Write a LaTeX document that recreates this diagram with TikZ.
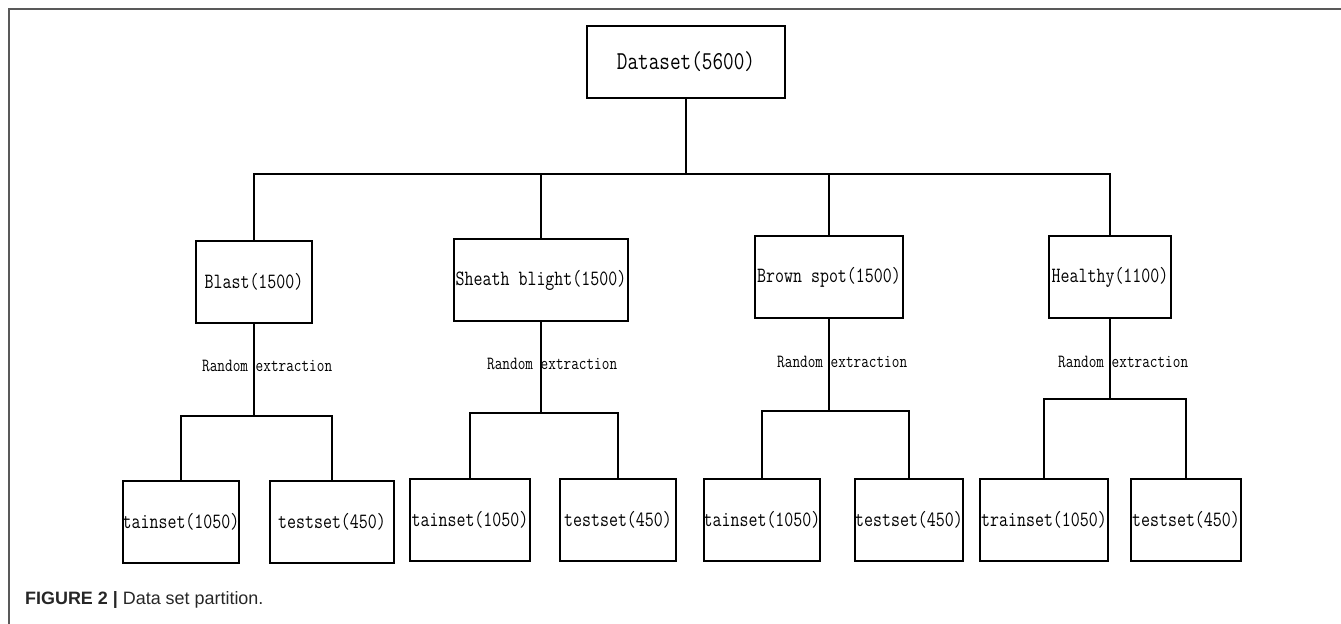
\documentclass[tikz,border=0pt]{standalone}
\usepackage{fontspec}
\usepackage{graphicx}
\newfontfamily\capfont{Liberation Sans}
\newcommand{\tallt}[1]{\scalebox{1}[1.25]{#1}}
\tikzset{
  box/.style={draw, rectangle, line width=2bp, inner sep=0pt, align=center},
  topfont/.style={font=\ttfamily\fontsize{20.7}{23}\selectfont},
  midfont/.style={font=\ttfamily\fontsize{17.5}{20}\selectfont},
  lblfont/.style={font=\ttfamily\fontsize{14.9}{17}\selectfont, inner sep=0pt, anchor=west},
  conn/.style={line width=2bp},
  frame/.style={draw=black!65, line width=1.5bp}
}
\begin{document}
\begin{tikzpicture}[x=1bp, y=-1bp]
\useasboundingbox (0,0) rectangle (1341,624);
% frame
\coordinate (fr0) at (9,624);
\coordinate (fr1) at (9,9);
\coordinate (fr2) at (1341,9);
\draw[frame] (fr0) -- (fr1) -- (fr2);

% top
\node[box, topfont, minimum width=198bp, minimum height=72bp] (ds) at (686,62) {\tallt{Dataset(5600)}};

% level 2
\node[box, midfont, minimum width=116bp, minimum height=82bp] (blast) at (254,282) {\tallt{Blast(1500)}};
\node[box, midfont, minimum width=174bp, minimum height=82bp] (sheath) at (541,280) {\tallt{Sheath blight(1500)}};
\node[box, midfont, minimum width=148bp, minimum height=82bp] (brown) at (829,277) {\tallt{Brown spot(1500)}};
\node[box, midfont, minimum width=122bp, minimum height=82bp] (healthy) at (1110,277) {\tallt{Healthy(1100)}};

% leaves
\node[box, midfont, minimum width=116bp, minimum height=82bp] (tr1) at (181,522) {\tallt{tainset(1050)}};
\node[box, midfont, minimum width=124bp, minimum height=82bp] (te1) at (332,522) {\tallt{testset(450)}};
\node[box, midfont, minimum width=120bp, minimum height=82bp] (tr2) at (470,520) {\tallt{tainset(1050)}};
\node[box, midfont, minimum width=116bp, minimum height=82bp] (te2) at (618,520) {\tallt{testset(450)}};
\node[box, midfont, minimum width=116bp, minimum height=82bp] (tr3) at (762,520) {\tallt{tainset(1050)}};
\node[box, midfont, minimum width=108bp, minimum height=82bp] (te3) at (909,520) {\tallt{testset(450)}};
\node[box, midfont, minimum width=128bp, minimum height=82bp] (tr4) at (1044,520) {\tallt{trainset(1050)}};
\node[box, midfont, minimum width=110bp, minimum height=82bp] (te4) at (1186,520) {\tallt{testset(450)}};

% bus coordinates
\coordinate (bus) at (0,174);
\coordinate (b1) at (0,416);
\coordinate (b2) at (0,413);
\coordinate (b3) at (0,411);
\coordinate (b4) at (0,399);

% top connectors
\draw[conn] (ds.south) -- (ds.south |- bus);
\draw[conn] (blast.north) |- (healthy.north |- bus) -- (healthy.north);
\draw[conn] (sheath.north) -- (sheath.north |- bus);
\draw[conn] (brown.north) -- (brown.north |- bus);

% lower connectors
\draw[conn] (blast.south) -- (blast.south |- b1);
\draw[conn] (tr1.north) |- (te1.north |- b1) -- (te1.north);
\draw[conn] (sheath.south) -- (sheath.south |- b2);
\draw[conn] (tr2.north) |- (te2.north |- b2) -- (te2.north);
\draw[conn] (brown.south) -- (brown.south |- b3);
\draw[conn] (tr3.north) |- (te3.north |- b3) -- (te3.north);
\draw[conn] (healthy.south) -- (healthy.south |- b4);
\draw[conn] (tr4.north) |- (te4.north |- b4) -- (te4.north);

% labels
\node[lblfont] (l1) at (202,366) {\tallt{Random extraction}};
\node[lblfont] (l2) at (487,364) {\tallt{Random extraction}};
\node[lblfont] (l3) at (777,362) {\tallt{Random extraction}};
\node[lblfont] (l4) at (1058,362) {\tallt{Random extraction}};

% caption
\node[anchor=base west, inner sep=0pt, font=\capfont\fontsize{18}{21}\selectfont, text=black!85] (cap) at (25,604) {\textbf{FIGURE 2 |} Data set partition.};
\end{tikzpicture}
\end{document}
